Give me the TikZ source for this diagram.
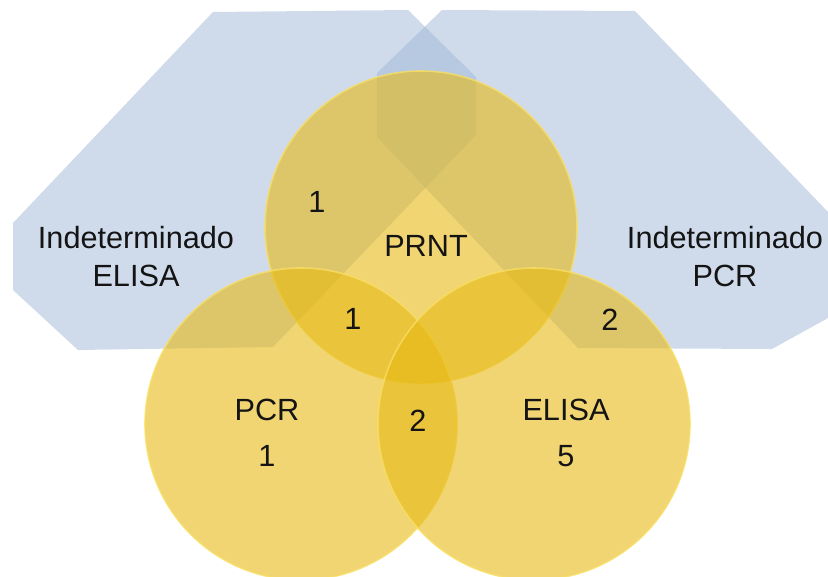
\documentclass[tikz,border=0pt]{standalone}
\usepackage{fontspec}
\setmainfont{Liberation Sans}
\definecolor{hexblue}{RGB}{159,183,215}
\definecolor{venny}{RGB}{230,185,20}
\definecolor{rimy}{RGB}{248,222,100}
\definecolor{txt}{RGB}{20,20,20}
\begin{document}
\begin{tikzpicture}[x=0.75pt,y=-0.75pt,
  hexa/.style={fill=hexblue,fill opacity=0.5,draw=none},
  venn/.style={fill=venny,fill opacity=0.6,draw=rimy,draw opacity=0.8,line width=1.2pt},
  lbl/.style={text=txt,font=\fontsize{23}{28.5}\selectfont,align=center,inner sep=0pt},
  lbl2/.style={lbl,font=\fontsize{23}{34.5}\selectfont}]
\useasboundingbox (0,0) rectangle (828,576);
\clip (0,0) rectangle (828,576);
% hexagons
\fill[hexa] (213,12) -- (408,10) -- (476,77) -- (476,135) -- (273,347) -- (78,350) -- (13,290) -- (13,223) -- cycle;
\fill[hexa] (442,10) -- (635,11) -- (828,212) -- (828,318) -- (772,349) -- (578,348) -- (377,137) -- (377,73) -- cycle;
% circles
\path[venn] (421,227) circle[radius=156];
\path[venn] (301,424) circle[radius=156];
\path[venn] (534,424) circle[radius=156];
% labels
\node[lbl] (indE) at (136,257) {Indeterminado\\ELISA};
\node[lbl] (indP) at (725,257) {Indeterminado\\PCR};
\node[lbl] (prnt) at (426,246) {PRNT};
\node[lbl] (n1a) at (317,202) {1};
\node[lbl] (n1b) at (353,319) {1};
\node[lbl] (n2a) at (610,320) {2};
\node[lbl] (n2b) at (418,421) {2};
\node[lbl2] (pcr) at (267,433) {PCR\\1};
\node[lbl2] (elisa) at (566,433) {ELISA\\5};
\end{tikzpicture}
\end{document}
